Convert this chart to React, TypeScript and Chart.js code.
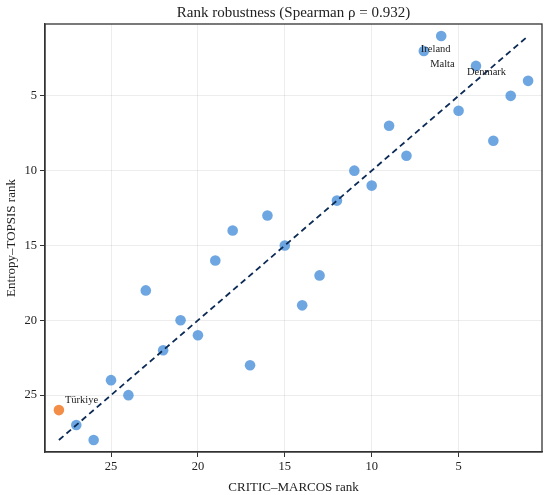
import React, { useEffect, useRef } from "react";
import { Chart, registerables } from "chart.js";

Chart.register(...registerables);

// CRITIC–MARCOS rank (x) vs Entropy–TOPSIS rank (y)
const criticMarcosRank = [6, 7, 4, 1, 2, 5, 3, 9, 8, 11, 10, 12, 16, 18, 15, 19, 13, 23, 14, 21, 20, 22, 17, 25, 24, 27, 26];
const entropyTopsisRank = [1, 2, 3, 4, 5, 6, 8, 7, 9, 10, 11, 12, 13, 14, 15, 16, 17, 18, 19, 20, 21, 22, 23, 24, 25, 27, 28];

// Highlighted country (Türkiye)
const highlightX = [28];
const highlightY = [26];

// Identity (y = x) reference line
const identityX = [28, 1];
const identityY = [28, 1];

const tickValues = [5, 10, 15, 20, 25];
const axisMin = 0.2;
const axisMax = 28.8;

const chartTitle = "Rank robustness (Spearman ρ = 0.932)";

// Annotated countries (anchored to their points)
const labelNames = ["Ireland", "Malta", "Denmark", "Türkiye"];
const labelAnchorX = [7, 6, 4, 28];
const labelAnchorY = [2, 1, 3, 26];

const labelOffsets = [
  { dx: -3, dy: -1.5 },
  { dx: -11, dy: 28.5 },
  { dx: -9, dy: 6 },
  { dx: 6, dy: -9.5 },
];

const FONT = "'Liberation Serif', 'Times New Roman', serif";

export default function App() {
  const canvasRef = useRef<HTMLCanvasElement | null>(null);

  useEffect(() => {
    document.body.style.margin = "0";
    const canvas = canvasRef.current;
    if (!canvas) return;

    Chart.defaults.font.family = FONT;

    const framePlugin = {
      id: "frame",
      afterDraw(chart: any) {
        const { ctx, chartArea } = chart;
        ctx.save();
        ctx.strokeStyle = "#333";
        ctx.lineWidth = 1.3;
        ctx.strokeRect(chartArea.left, chartArea.top, chartArea.right - chartArea.left, chartArea.bottom - chartArea.top);
        // Title centred over the plot area
        ctx.font = `15px ${FONT}`;
        ctx.fillStyle = "#222";
        ctx.textAlign = "center";
        ctx.textBaseline = "middle";
        ctx.fillText(chartTitle, (chartArea.left + chartArea.right) / 2, chartArea.top - 11);
        ctx.restore();
      },
    };

    const labelPlugin = {
      id: "pointLabels",
      afterDatasetsDraw(chart: any) {
        const { ctx, scales } = chart;
        ctx.save();
        ctx.font = `10.5px ${FONT}`;
        ctx.fillStyle = "#222";
        ctx.textAlign = "left";
        ctx.textBaseline = "middle";
        labelNames.forEach((name, i) => {
          const px = scales.x.getPixelForValue(labelAnchorX[i]) + labelOffsets[i].dx;
          const py = scales.y.getPixelForValue(labelAnchorY[i]) + labelOffsets[i].dy;
          ctx.fillText(name, px, py);
        });
        ctx.restore();
      },
    };

    const chart = new Chart(canvas, {
      type: "scatter",
      data: {
        datasets: [
          {
            label: "Countries",
            data: criticMarcosRank.map((x, i) => ({ x, y: entropyTopsisRank[i] })),
            backgroundColor: "rgba(74,144,217,0.8)",
            borderWidth: 0,
            pointRadius: 5.3,
            order: 2,
          },
          {
            label: "Türkiye",
            data: highlightX.map((x, i) => ({ x, y: highlightY[i] })),
            backgroundColor: "rgba(240,122,40,0.85)",
            borderWidth: 0,
            pointRadius: 5.3,
            order: 1,
          },
          {
            label: "Identity",
            type: "line",
            data: identityX.map((x, i) => ({ x, y: identityY[i] })),
            borderColor: "#0b2a55",
            borderWidth: 1.8,
            borderDash: [6, 4],
            pointRadius: 0,
            showLine: true,
            fill: false,
            order: 0,
          } as any,
        ],
      },
      options: {
        animation: false,
        responsive: true,
        maintainAspectRatio: false,
        layout: { padding: { left: 0, right: 8, top: 24, bottom: 0 } },
        plugins: {
          legend: { display: false },
          tooltip: { enabled: false },
          title: { display: false },
        },
        scales: {
          x: {
            type: "linear",
            reverse: true,
            min: axisMin,
            max: axisMax,
            afterBuildTicks: (s: any) => {
              s.ticks = tickValues.map((v) => ({ value: v }));
            },
            afterFit: (s: any) => {
              s.height = 43;
            },
            grid: {
              color: "rgba(0,0,0,0.07)",
              tickColor: "#333",
              tickLength: 5,
              tickWidth: 1,
            },
            border: { color: "#333", width: 1.3 },
            ticks: {
              color: "#222",
              font: { family: FONT, size: 12.5 },
              padding: 2,
              maxRotation: 0,
            },
            title: {
              display: true,
              text: "CRITIC–MARCOS rank",
              color: "#222",
              font: { family: FONT, size: 13 },
              padding: { top: 4, bottom: 0 },
            },
          },
          y: {
            type: "linear",
            reverse: true,
            min: axisMin,
            max: axisMax,
            afterBuildTicks: (s: any) => {
              s.ticks = tickValues.map((v) => ({ value: v }));
            },
            afterFit: (s: any) => {
              s.width = 45;
            },
            grid: {
              color: "rgba(0,0,0,0.07)",
              tickColor: "#333",
              tickLength: 5,
              tickWidth: 1,
            },
            border: { color: "#333", width: 1.3 },
            ticks: {
              color: "#222",
              font: { family: FONT, size: 12.5 },
              padding: 3,
            },
            title: {
              display: true,
              text: "Entropy–TOPSIS rank",
              color: "#222",
              font: { family: FONT, size: 13 },
              padding: { top: 4, bottom: 0 },
            },
          },
        },
      },
      plugins: [framePlugin, labelPlugin],
    });

    return () => chart.destroy();
  }, []);

  return (
    <div style={{ width: 550, height: 495, position: "relative" }}>
      <canvas ref={canvasRef} />
    </div>
  );
}
